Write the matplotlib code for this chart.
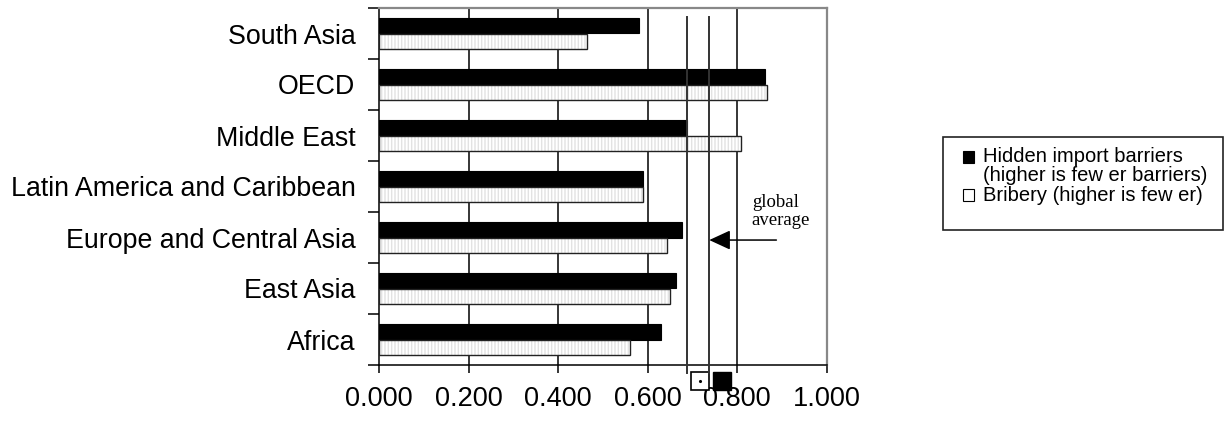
import matplotlib
matplotlib.use("Agg")
import matplotlib.pyplot as plt
import matplotlib.transforms as mtransforms
from matplotlib.patches import Rectangle
import numpy as np

plt.rcParams['font.family'] = ['Liberation Sans', 'DejaVu Sans']

# data, top to bottom
categories = ['South Asia', 'OECD', 'Middle East', 'Latin America and Caribbean',
              'Europe and Central Asia', 'East Asia', 'Africa']
hidden_barriers = [0.582, 0.862, 0.688, 0.591, 0.677, 0.664, 0.631]
bribery = [0.465, 0.867, 0.808, 0.589, 0.644, 0.650, 0.560]
global_avg_bribery = 0.688
global_avg_hidden = 0.738
xticks = [0.0, 0.2, 0.4, 0.6, 0.8, 1.0]

W, H = 1231, 422
fig = plt.figure(figsize=(W / 100, H / 100), dpi=100)
ax = fig.add_axes([379 / W, (H - 365) / H, (826.5 - 379) / W, (365 - 8) / H])

y = np.arange(len(categories))
bh = 0.3

# grid lines behind bars
for gx in xticks[1:-1]:
    ax.axvline(gx, color='black', lw=1.1, zorder=0)

ax.barh(y - bh / 2, hidden_barriers, height=bh, color='black',
        edgecolor='black', lw=0.8, zorder=2)
# bribery bars: faint vertical hatch + black outline
ax.barh(y + bh / 2, bribery, height=bh, color='white', hatch='|||||',
        edgecolor='#e2e2e2', lw=0, zorder=2)
ax.barh(y + bh / 2, bribery, height=bh, fill=False,
        edgecolor='#222222', lw=1.0, zorder=3)

ax.set_xlim(0, 1.0)
ax.set_ylim(len(categories) - 0.5, -0.5)

ax.set_xticks(xticks)
ax.set_xticklabels(['%.3f' % v for v in xticks], fontsize=19.5)
ax.tick_params(axis='x', direction='out', length=6, width=1.1, pad=9)

ax.set_yticks(np.arange(-0.5, len(categories), 1.0))
ax.set_yticklabels([])
ax.tick_params(axis='y', which='major', direction='out', length=8, width=1.1)
ax.set_yticks(y, minor=True)
ax.set_yticklabels(categories, minor=True, fontsize=19.3)
ax.tick_params(axis='y', which='minor', length=0, pad=17)

for s in ['left', 'bottom']:
    ax.spines[s].set_color('black')
    ax.spines[s].set_linewidth(1.1)
for s in ['top', 'right']:
    ax.spines[s].set_color('#888888')
    ax.spines[s].set_linewidth(1.6)

# global average lines with markers below the axis
trans = mtransforms.blended_transform_factory(ax.transData, ax.transAxes)
for gx in [global_avg_bribery, global_avg_hidden]:
    ax.plot([gx, gx], [-0.022, 0.975], color='#333333', lw=1.4,
            transform=trans, clip_on=False, zorder=4)
ax.plot([0.717], [-0.045], marker='s', ms=12.5, mfc='white', mec='black',
        mew=1.2, transform=trans, clip_on=False)
ax.plot([0.717], [-0.045], marker='.', ms=2.5, color='black',
        transform=trans, clip_on=False)
ax.plot([0.767], [-0.045], marker='s', ms=13, mfc='black', mec='black',
        transform=trans, clip_on=False)

ax.annotate('', xy=(global_avg_hidden, 0.35), xytext=(0.888, 0.35),
            xycoords=trans, textcoords=trans,
            arrowprops=dict(arrowstyle='-|>,head_length=1.3,head_width=0.6',
                            color='black', lw=1.1, shrinkA=0, shrinkB=0))
ax.text(0.833, 0.43, 'global\naverage', transform=trans,
        family='Liberation Serif', fontsize=13.5, ha='left', va='center',
        linespacing=1.05)

# legend box
fig.add_artist(Rectangle((943 / W, 1 - 230 / H), (1223 - 943) / W, (230 - 137) / H,
                         transform=fig.transFigure, fill=False,
                         edgecolor='#222222', lw=1.2))
fig.add_artist(Rectangle((963 / W, 1 - 163 / H), 11 / W, 12 / H,
                         transform=fig.transFigure, facecolor='black',
                         edgecolor='black', lw=0.8))
fig.add_artist(Rectangle((963 / W, 1 - 201 / H), 11 / W, 12 / H,
                         transform=fig.transFigure, facecolor='white',
                         edgecolor='black', lw=0.8))
legend_lines = ['Hidden import barriers', '(higher is few er barriers)',
                'Bribery (higher is few er)']
for txt, ly in zip(legend_lines, [156, 175.5, 195]):
    fig.text(983 / W, 1 - ly / H, txt, fontsize=14.5, ha='left', va='center')

fig.savefig('out.png', dpi=100)
